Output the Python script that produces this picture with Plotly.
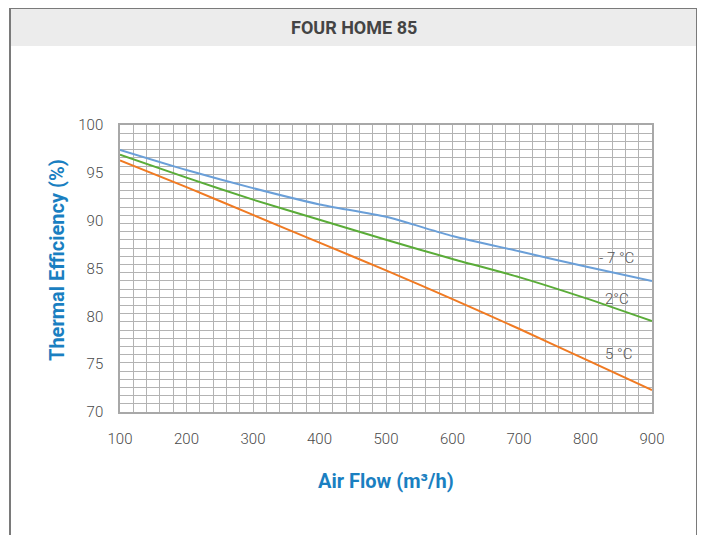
import plotly.graph_objects as go

air_flow = [100, 200, 300, 400, 500, 600, 700, 800, 900]
eff_m7 = [97.4, 95.3, 93.4, 91.7, 90.4, 88.4, 86.8, 85.2, 83.7]
eff_2 = [96.9, 94.5, 92.2, 90.1, 88.0, 86.0, 84.1, 81.9, 79.5]
eff_5 = [96.3, 93.5, 90.6, 87.7, 84.8, 81.8, 78.7, 75.5, 72.3]
series_names = ["- 7 °C", "2°C", "5 °C"]
label_pos = [(847, 86.1), (847, 81.8), (849, 76.1)]
colors = ["#6a9fd8", "#5aac38", "#f07a22"]
title_text = "FOUR HOME 85"
x_title = "Air Flow (m³/h)"
y_title = "Thermal Efficiency (%)"

OFF = 8  # page body margin
W, H = 705 - OFF, 535 - OFF
# plot area in screen pixels
SL, SR, ST, SB = 120, 652, 125, 412
L, R, T, B = SL - OFF, SR - OFF, ST - OFF, SB - OFF


def px(x):
    return (x - SL) / (SR - SL)


def py(y):
    return (SB - y) / (SB - ST)


fig = go.Figure()
for vals, c, n in zip([eff_m7, eff_2, eff_5], colors, series_names):
    fig.add_trace(go.Scatter(x=air_flow, y=vals, mode="lines", name=n,
                             line=dict(color=c, width=2, shape="spline", smoothing=0.6),
                             showlegend=False, hoverinfo="skip"))

for (lx, ly), n in zip(label_pos, series_names):
    fig.add_annotation(x=lx, y=ly, text=n, showarrow=False, xanchor="center",
                       yanchor="middle",
                       font=dict(family="Roboto", size=15, color="#555555", weight=300))

grid = "#b3b3b3"
tickfont = dict(family="Roboto", size=15, color="#4a4a4a", weight=300)
fig.update_xaxes(range=[100, 900], tickvals=air_flow, ticktext=[str(v) for v in air_flow],
                 showgrid=True, gridcolor=grid, gridwidth=1,
                 minor=dict(dtick=20, tick0=100, showgrid=True, gridcolor=grid, gridwidth=1),
                 showline=True, linecolor="#a8a8a8", linewidth=1.5, mirror=True,
                 ticks="", ticklabelstandoff=12, zeroline=False, tickfont=tickfont)
fig.update_yaxes(range=[70, 100], tickvals=[70, 75, 80, 85, 90, 95, 100],
                 showgrid=False,
                 minor=dict(dtick=30 / 35, tick0=70, showgrid=True, gridcolor=grid, gridwidth=1),
                 showline=True, linecolor="#a8a8a8", linewidth=1.5, mirror=True,
                 ticks="", ticklabelstandoff=12, zeroline=False, tickfont=tickfont)

shapes = [
    dict(type="rect", xref="paper", yref="paper", x0=px(10), x1=px(697), y0=py(46), y1=py(8),
         fillcolor="#ececec", line=dict(width=0), layer="below"),
    dict(type="line", xref="paper", yref="paper", x0=px(10), x1=px(697), y0=py(8), y1=py(8),
         line=dict(color="#7a7a7a", width=2)),
    dict(type="line", xref="paper", yref="paper", x0=px(10), x1=px(10), y0=py(8), y1=py(545),
         line=dict(color="#7a7a7a", width=2)),
    dict(type="line", xref="paper", yref="paper", x0=px(697), x1=px(697), y0=py(8), y1=py(545),
         line=dict(color="#7a7a7a", width=2)),
]

fig.add_annotation(xref="paper", yref="paper", x=px(354), y=py(28), text="<b>" + title_text + "</b>",
                   showarrow=False, xanchor="center", yanchor="middle",
                   font=dict(family="Roboto", size=18, color="#444444"))
fig.add_annotation(xref="paper", yref="paper", x=px(386), y=py(481), text="<b>" + x_title + "</b>",
                   showarrow=False, xanchor="center", yanchor="middle",
                   font=dict(family="Roboto", size=20, color="#1a7fc1"))
fig.add_annotation(xref="paper", yref="paper", x=px(57), y=py(260), text="<b>" + y_title + "</b>",
                   showarrow=False, xanchor="center", yanchor="middle", textangle=-90,
                   font=dict(family="Roboto", size=20, color="#1a7fc1"))

fig.update_layout(width=W, height=H, margin=dict(l=L, r=W - R, t=T, b=H - B),
                  paper_bgcolor="white", plot_bgcolor="white", shapes=shapes)

fig.write_html("out.html")
